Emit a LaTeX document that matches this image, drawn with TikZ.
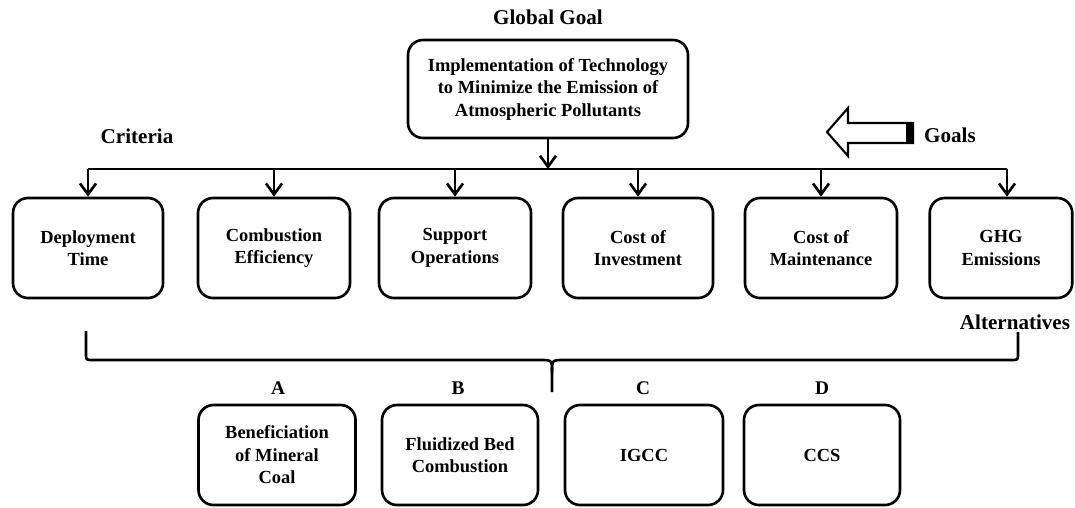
\documentclass[tikz,border=0pt]{standalone}
\usepackage{fontspec}
\setmainfont{Liberation Serif}
\usetikzlibrary{arrows.meta}
\newcommand{\boxfont}{\bfseries\fontsize{10.5}{12.8}\selectfont}
\newcommand{\lblfont}{\bfseries\fontsize{12}{14}\selectfont}
\tikzstyle{heading}=[font=\lblfont,inner sep=1pt]
\tikzstyle{letter}=[font=\bfseries\fontsize{11}{13}\selectfont,inner sep=1pt]
\tikzstyle{goalbox}=[rectangle,rounded corners=0.3cm,draw=black,line width=1.5pt,align=center,font=\boxfont]
\tikzstyle{critbox}=[goalbox,minimum width=3cm,minimum height=2cm]
\tikzstyle{altbox}=[goalbox,minimum width=3.12cm,minimum height=2cm]
\tikzstyle{wire}=[line width=1.5pt]

\begin{document}
\begin{tikzpicture}[x=0.2mm,y=-0.2mm,>={Straight Barb[length=2.2mm,width=3.2mm]}]
        \useasboundingbox (0,0) rectangle (1075,507);

        % goal
        \node at (548,17) [heading] (gg) {Global Goal};
        \node at (548,89) [goalbox,minimum width=5.6cm,minimum height=1.96cm] (top)
          {Implementation of Technology\\to Minimize the Emission of\\Atmospheric Pollutants};

        \node at (137,136) [heading] (crit) {Criteria};
        \node at (950,135) [heading] (goals) {Goals};
        \node at (1015,322) [heading] (alt) {Alternatives};

        % criteria
        \node at (88,248)   [critbox]                    (c1) {Deployment\\Time};
        \node at (274,248)  [critbox,minimum width=3.04cm] (c2) {Combustion\\Efficiency};
        \node at (455,248)  [critbox,minimum width=3.04cm] (c3) {Support\\Operations};
        \node at (638,248)  [critbox]                    (c4) {Cost of\\Investment};
        \node at (821,248)  [critbox,minimum width=3.04cm] (c5) {Cost of\\Maintenance};
        \node at (1001,248) [critbox,minimum width=2.85cm] (c6) {GHG\\Emissions};

        \coordinate (bus) at (548,169);
        \draw [wire,->] (top.south) -- (bus);
        \draw [wire] (c1.north |- bus) -- ([xshift=0.12cm]c6.north |- bus);
        \foreach \n in {c1,c2,c3,c4,c5}
          \draw [wire,->] (\n.north |- bus) -- (\n.north);
        \draw [wire,->] ([xshift=0.12cm]c6.north |- bus) -- ([xshift=0.12cm]c6.north);

        % big hollow arrow
        \draw [line width=1.2pt,fill=white,line join=miter]
          (827,132) -- (848,108) -- (848,123) -- (913,123) -- (913,143)
          -- (848,143) -- (848,156) -- cycle;
        \fill (906,123) rectangle (913,143);

        % brace
        \coordinate (bl) at (86,331);
        \coordinate (br) at (1018,332);
        \coordinate (bt) at (552,392);
        \draw [wire] (bl) -- (86,354) .. controls (86,360) .. (93,360) -- (540,360)
          .. controls (552,360) .. (552,372) -- (bt);
        \draw [wire] (br) -- (1018,354) .. controls (1018,360) .. (1011,360) -- (564,360)
          .. controls (552,360) .. (552,372);

        % alternatives
        \node at (277,455) [altbox,minimum width=3.14cm] (a1) {Beneficiation\\of Mineral\\Coal};
        \node at (460,455) [altbox]                    (a2) {Fluidized Bed\\Combustion};
        \node at (644,455) [altbox,minimum width=3.16cm] (a3) {IGCC};
        \node at (822,455) [altbox]                    (a4) {CCS};

        \node at (278,388) [letter] (la) {A};
        \node at (458,388) [letter] (lb) {B};
        \node at (643,388) [letter] (lc) {C};
        \node at (822,388) [letter] (ld) {D};
      \end{tikzpicture}
\end{document}
